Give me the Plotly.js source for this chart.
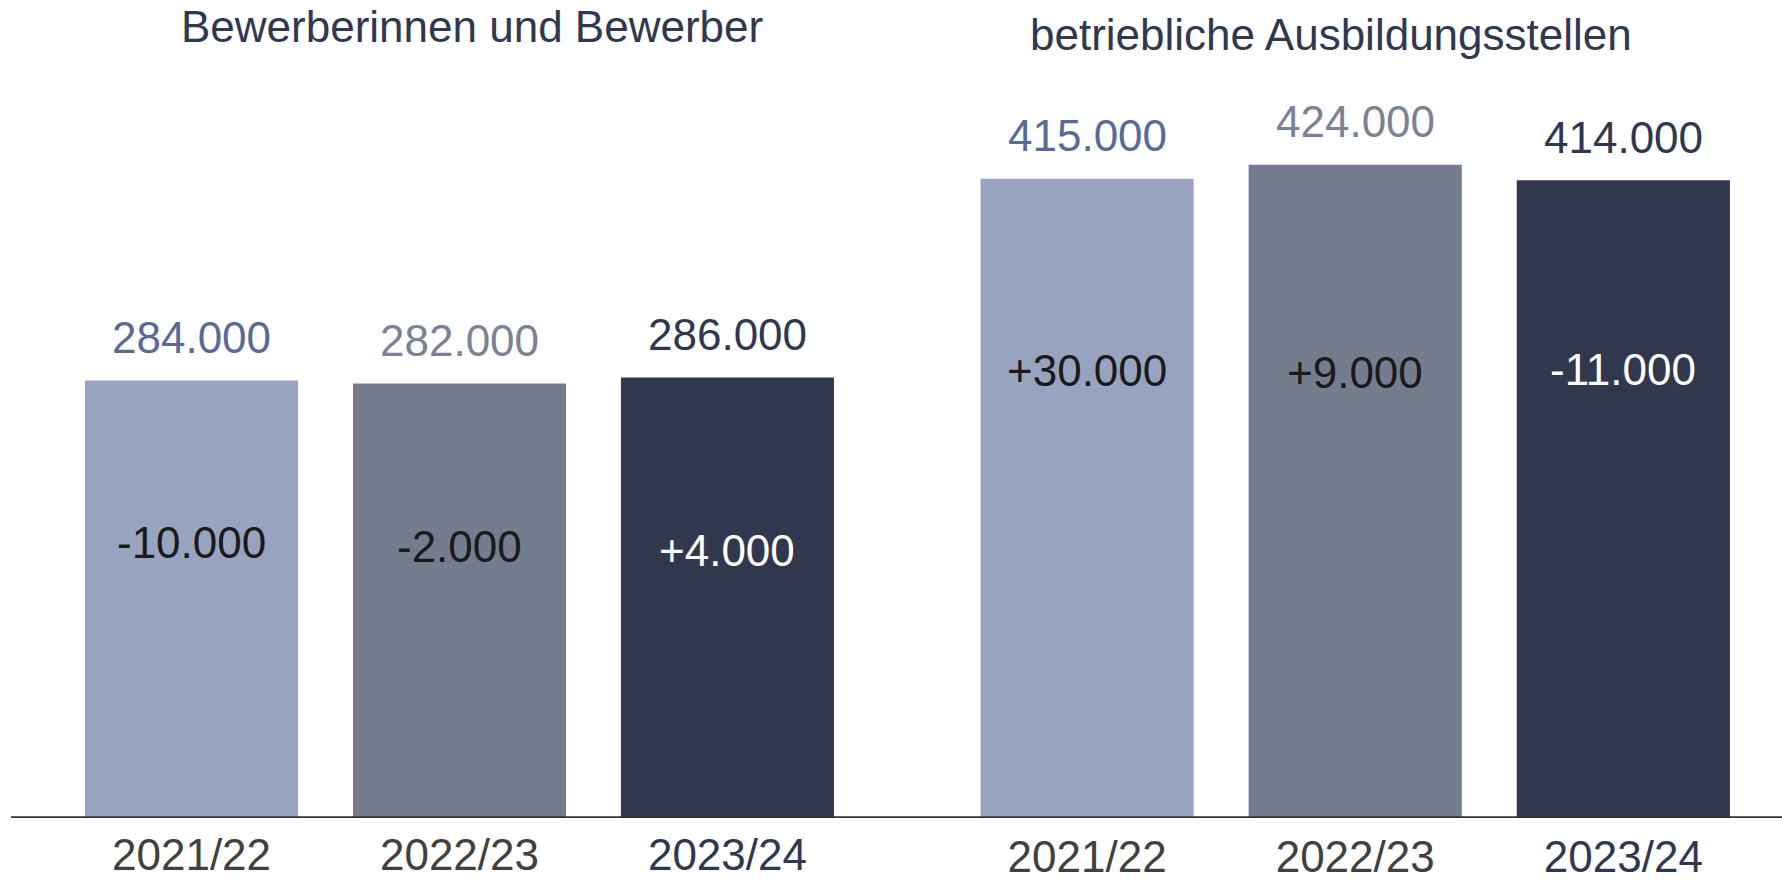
<!DOCTYPE html>
<html>
<head>
<meta charset="utf-8">
<script src="https://cdn.plot.ly/plotly-3.0.1.min.js"></script>
<style>
  html, body { margin: 0; padding: 0; background: #ffffff; }
  #chart { width: 1782px; height: 882px; }
</style>
</head>
<body>
<div id="chart"></div>
<script>
// ---- data ----
const categories = ['2021/22', '2022/23', '2023/24'];
const applicants = [284000, 282000, 286000];
const applicantsChange = [-10000, -2000, 4000];
const places = [415000, 424000, 414000];
const placesChange = [30000, 9000, -11000];
const groupTitles = ['Bewerberinnen und Bewerber', 'betriebliche Ausbildungsstellen'];

// ---- styles ----
const barColors = ['#98a4bf', '#747c8e', '#31384d'];
const valueColors = ['#5a6a96', '#7b8296', '#2f3850'];
const changeColors = ['#1a1a1a', '#1a1a1a', '#ffffff'];
const navy = '#2f3850';
const FONT = 'Liberation Sans, Arial, sans-serif';
const leftChangeShift = [-162, -163, -173];
const rightChangeShift = [-192, -208, -189];

function fmt(v) {
  return String(Math.abs(v)).replace(/\B(?=(\d{3})+(?!\d))/g, '.');
}
function fmtSigned(v) {
  return (v > 0 ? '+' : '-') + fmt(v);
}

const tickText = categories.map((c, i) =>
  i === 2 ? '<span style="color:' + navy + '">' + c + '</span>' : c);

const traces = [
  {
    type: 'bar', x: categories, y: applicants, xaxis: 'x', yaxis: 'y',
    marker: { color: barColors }, hoverinfo: 'skip', showlegend: false
  },
  {
    type: 'bar', x: categories, y: places, xaxis: 'x2', yaxis: 'y',
    marker: { color: barColors }, hoverinfo: 'skip', showlegend: false
  }
];

const annotations = [];
function addGroup(xref, values, changes, shifts) {
  values.forEach((v, i) => {
    annotations.push({
      xref: xref, yref: 'y', x: categories[i], y: v,
      text: fmt(v), showarrow: false, yanchor: 'middle', yshift: 43,
      font: { family: FONT, size: 44, color: valueColors[i] }
    });
    annotations.push({
      xref: xref, yref: 'y', x: categories[i], y: v,
      text: fmtSigned(changes[i]), showarrow: false, yanchor: 'middle', yshift: shifts[i],
      font: { family: FONT, size: 44, color: changeColors[i] }
    });
  });
}
addGroup('x', applicants, applicantsChange, leftChangeShift);
addGroup('x2', places, placesChange, rightChangeShift);

annotations.push({
  xref: 'paper', yref: 'paper', x: 0.265, y: 0.968, text: groupTitles[0],
  showarrow: false, xanchor: 'center', yanchor: 'middle',
  font: { family: FONT, size: 44, color: navy }
});
annotations.push({
  xref: 'paper', yref: 'paper', x: 0.747, y: 0.958, text: groupTitles[1],
  showarrow: false, xanchor: 'center', yanchor: 'middle',
  font: { family: FONT, size: 44, color: navy }
});

const xaxisBase = {
  type: 'category', showgrid: false, zeroline: false, showline: false,
  ticks: '', tickmode: 'array', tickvals: categories, ticktext: tickText,
  tickfont: { family: FONT, size: 44, color: '#404040' }, fixedrange: true
};

const layout = {
  width: 1782, height: 882,
  margin: { l: 0, r: 0, t: 0, b: 64, pad: 0 },
  paper_bgcolor: '#ffffff', plot_bgcolor: '#ffffff',
  bargap: 0.205,
  showlegend: false,
  xaxis: Object.assign({}, xaxisBase, { domain: [0.0323, 0.4834], anchor: 'y', ticklabelstandoff: 7 }),
  xaxis2: Object.assign({}, xaxisBase, { domain: [0.5348, 0.9862], anchor: 'y', ticklabelstandoff: 9 }),
  yaxis: { range: [0, 531000], visible: false, showgrid: false, zeroline: false, fixedrange: true },
  shapes: [{
    type: 'line', xref: 'paper', yref: 'y', x0: 0.0062, x1: 1, y0: 0, y1: 0,
    line: { color: '#333333', width: 3.5 }, layer: 'above'
  }],
  annotations: annotations
};

Plotly.newPlot('chart', traces, layout, { staticPlot: true, displayModeBar: false });
</script>
</body>
</html>
